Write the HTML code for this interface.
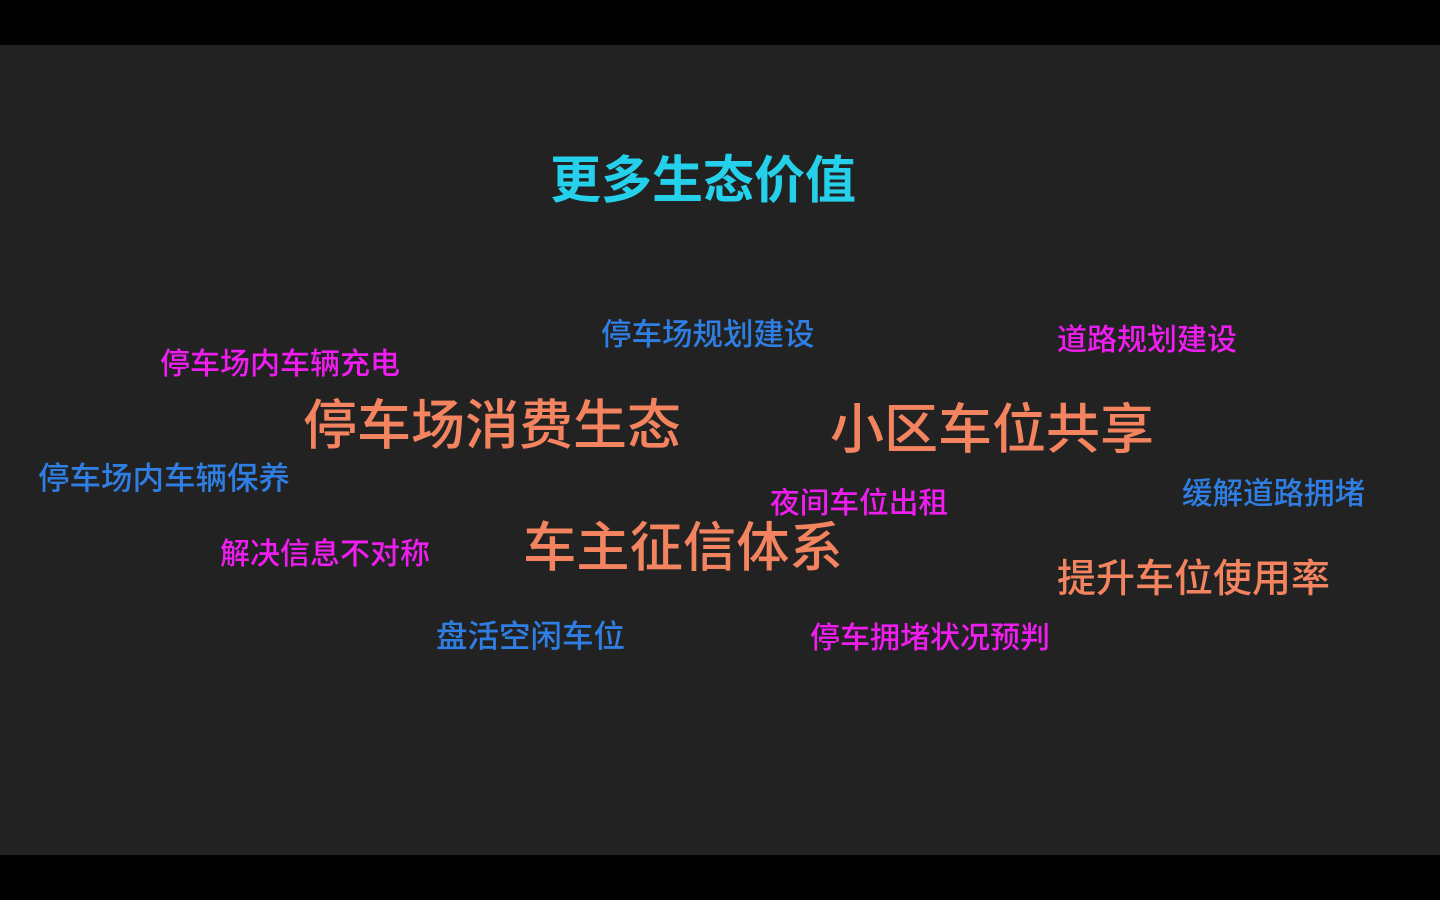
<!DOCTYPE html>
<html><head><meta charset="utf-8"><style>
html,body{margin:0;padding:0;width:1440px;height:900px;background:#000;overflow:hidden}
.main{position:absolute;left:0;top:45px;width:1440px;height:810px;background:#222}
.t{position:absolute;white-space:nowrap;line-height:1;font-weight:500;font-family:"Liberation Sans","Noto Sans CJK SC",sans-serif}
.o{color:#f4845f}.b{color:#2f7ee3}.m{color:#f01df0}
</style></head><body>
<div class="main"></div>
<div class="t" style="left:550px;top:155px;font-size:51px;color:#25d0ea;font-weight:bold">更多生态价值</div>
<div class="t b" style="left:601px;top:320px;font-size:30.5px">停车场规划建设</div>
<div class="t m" style="left:1057px;top:326px;font-size:30px">道路规划建设</div>
<div class="t m" style="left:160px;top:350px;font-size:30px">停车场内车辆充电</div>
<div class="t o" style="left:303px;top:399px;font-size:54px">停车场消费生态</div>
<div class="t o" style="left:830px;top:403px;font-size:54px">小区车位共享</div>
<div class="t b" style="left:38px;top:463px;font-size:31.5px">停车场内车辆保养</div>
<div class="t m" style="left:770px;top:489px;font-size:29.7px">夜间车位出租</div>
<div class="t b" style="left:1182px;top:479px;font-size:30.5px">缓解道路拥堵</div>
<div class="t m" style="left:220px;top:540px;font-size:30px">解决信息不对称</div>
<div class="t o" style="left:523px;top:522px;font-size:53.3px">车主征信体系</div>
<div class="t o" style="left:1057px;top:560px;font-size:39px">提升车位使用率</div>
<div class="t b" style="left:436px;top:621px;font-size:31.5px">盘活空闲车位</div>
<div class="t m" style="left:810px;top:624px;font-size:30px">停车拥堵状况预判</div>
</body></html>
